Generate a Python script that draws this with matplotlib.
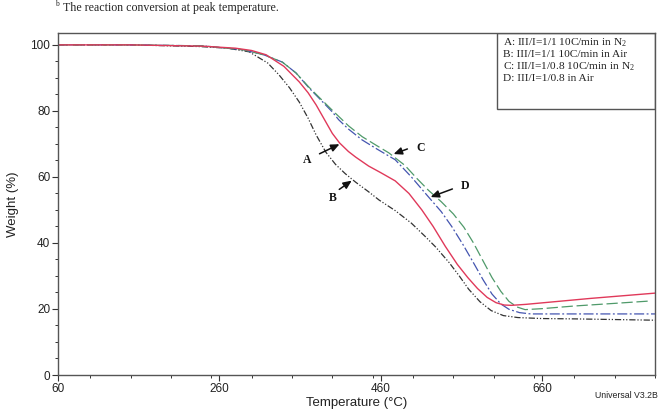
import matplotlib
matplotlib.use("Agg")
import matplotlib.pyplot as plt
from matplotlib.ticker import MultipleLocator, FixedLocator

plt.rcParams["mathtext.fontset"] = "custom"
plt.rcParams["mathtext.rm"] = "Liberation Serif"
plt.rcParams["mathtext.it"] = "Liberation Serif:italic"
plt.rcParams["mathtext.bf"] = "Liberation Serif:bold"

# ---- data ----
A_T = [60, 150, 240, 280, 300, 318, 340, 359, 370, 380, 390, 400, 409, 420, 429, 445, 460, 478, 495, 511, 525, 540, 555, 568, 580, 592, 603, 613, 622, 640, 680, 720, 760, 800]
A_W = [100, 100, 99.6, 99, 98.3, 97, 93.5, 88.8, 85.5, 81.8, 77.5, 73.2, 70.3, 67.7, 66, 63.3, 61.3, 58.8, 55, 50, 45, 39, 33.5, 29.5, 26.2, 23.5, 21.9, 21.2, 21.1, 21.4, 22.3, 23.2, 24, 24.8]

B_T = [60, 150, 235, 270, 297, 320, 334, 347, 359, 370, 380, 392, 404, 416, 429, 445, 458, 478, 498, 515, 528, 545, 558, 569, 583, 597, 612, 630, 660, 700, 750, 800]
B_W = [100, 100, 99.5, 99, 97.9, 94.5, 90.9, 87, 82.7, 77.8, 72.7, 67.5, 63.8, 61, 58.4, 55.5, 53, 49.8, 46, 42, 38.8, 34, 29.8, 26, 22.2, 19.5, 18, 17.4, 17.1, 17, 16.8, 16.6]

C_T = [60, 150, 240, 290, 315, 338, 355, 371, 385, 400, 420, 437, 455, 470, 490, 505, 519, 535, 550, 563, 575, 587, 598, 609, 619, 629, 639, 660, 700, 750, 793]
C_W = [100, 100, 99.7, 98.5, 97, 94.8, 91.5, 87.2, 83.8, 80.2, 75.5, 72.2, 69.5, 67.3, 63.5, 59.5, 56, 52.5, 48.8, 44.8, 40, 34.5, 29.5, 25.3, 22.3, 20.6, 19.8, 20.1, 20.9, 21.7, 22.4]

D_T = [60, 150, 240, 290, 315, 338, 355, 371, 385, 400, 408, 420, 437, 455, 478, 498, 519, 535, 548, 562, 575, 587, 598, 609, 619, 632, 646, 700, 750, 800]
D_W = [100, 100, 99.7, 98.5, 97, 94.8, 91.5, 87, 83.5, 79.7, 77.3, 74.5, 71.2, 68.5, 65.2, 60, 54, 49.5, 45, 39.5, 34, 28.8, 24.5, 21.5, 19.9, 18.9, 18.5, 18.5, 18.5, 18.5]

x_major = [60, 260, 460, 660]
legend_lines = [
    r"A: III/I=1/1 10C/min in N$_2$",
    "B: III/I=1/1 10C/min in Air",
    r"C: III/I=1/0.8 10C/min in N$_2$",
    "D: III/I=1/0.8 in Air",
]

fig = plt.figure(figsize=(6.6, 4.12), dpi=100)
ax = fig.add_axes([58/660, 1-375/412, (655-58)/660, (375-33)/412])

ax.plot(B_T, B_W, color="#333333", lw=0.9, ls=(0, (5, 1.5, 1, 1.5, 1, 1.5)))
ax.plot(D_T, D_W, color="#4455b0", lw=0.9, ls=(0, (8, 2, 1.5, 2)))
ax.plot(C_T, C_W, color="#4f9a6a", lw=0.9, ls=(0, (9, 3)))
ax.plot(A_T, A_W, color="#e0395a", lw=1.0, ls="-")

ax.set_xlim(60, 800)
ax.set_ylim(0, 103.6)
ax.xaxis.set_major_locator(FixedLocator(x_major))
ax.xaxis.set_minor_locator(MultipleLocator(50))
ax.yaxis.set_major_locator(MultipleLocator(20))
ax.yaxis.set_minor_locator(MultipleLocator(5))
ax.tick_params(which="major", direction="out", length=4, width=0.8, colors="#333333",
               labelsize=8.5, labelcolor="#222222", pad=1.5)
ax.tick_params(which="minor", direction="out", length=2.5, width=0.7, colors="#333333")
for lab in ax.get_xticklabels() + ax.get_yticklabels():
    lab.set_fontfamily("Liberation Sans")
for s in ax.spines.values():
    s.set_color("#555555")
    s.set_linewidth(1.0)

ax.set_xlabel("Temperature (°C)", fontsize=9.5, family="Liberation Sans", color="#222222", labelpad=2)
ax.set_ylabel("Weight (%)", fontsize=9.5, family="Liberation Sans", color="#222222", labelpad=8)

# legend box
lx0, lx1 = 497, 655
ly0, ly1 = 33, 109
ax.add_patch(plt.Rectangle((lx0/660, 1-ly1/412), (lx1-lx0)/660, (ly1-ly0)/412,
                           transform=fig.transFigure, fill=False, ec="#555555", lw=1.0))
for i, t in enumerate(legend_lines):
    fig.text(503/660, 1-(43+11.7*i)/412, t, fontsize=8.2, family="Liberation Serif",
             va="center", ha="left", color="#222222")

# annotations
def arrow(label, lxy, txy, hxy):
    ax.annotate("", xy=hxy, xytext=txy, xycoords="figure pixels", textcoords="figure pixels",
                arrowprops=dict(arrowstyle="-|>,head_length=0.5,head_width=0.22", color="#111111", lw=1.1))
    fig.text(lxy[0]/660, 1-lxy[1]/412, label, fontsize=8.5, family="Liberation Serif",
             fontweight="bold", ha="center", va="center", color="#111111")

arrow("A", (307, 160), (317, 412-155), (342, 412-143))
arrow("B", (333, 198), (337, 412-191), (354, 412-179))
arrow("C", (421, 148), (410, 412-148), (391, 412-155))
arrow("D", (465, 186), (455, 412-188), (428, 412-198))

fig.text(626/660, 1-396/412, "Universal V3.2B", fontsize=6.3, family="Liberation Sans",
         ha="center", va="center", color="#222222")
fig.text(55/660, 1-4/412, "b", fontsize=5.5, family="Liberation Serif", ha="left", va="center", color="#222222")
fig.text(63/660, 1-8/412, "The reaction conversion at peak temperature.", fontsize=8.6,
         family="Liberation Serif", ha="left", va="center", color="#222222")

fig.savefig("out.png", dpi=100)
